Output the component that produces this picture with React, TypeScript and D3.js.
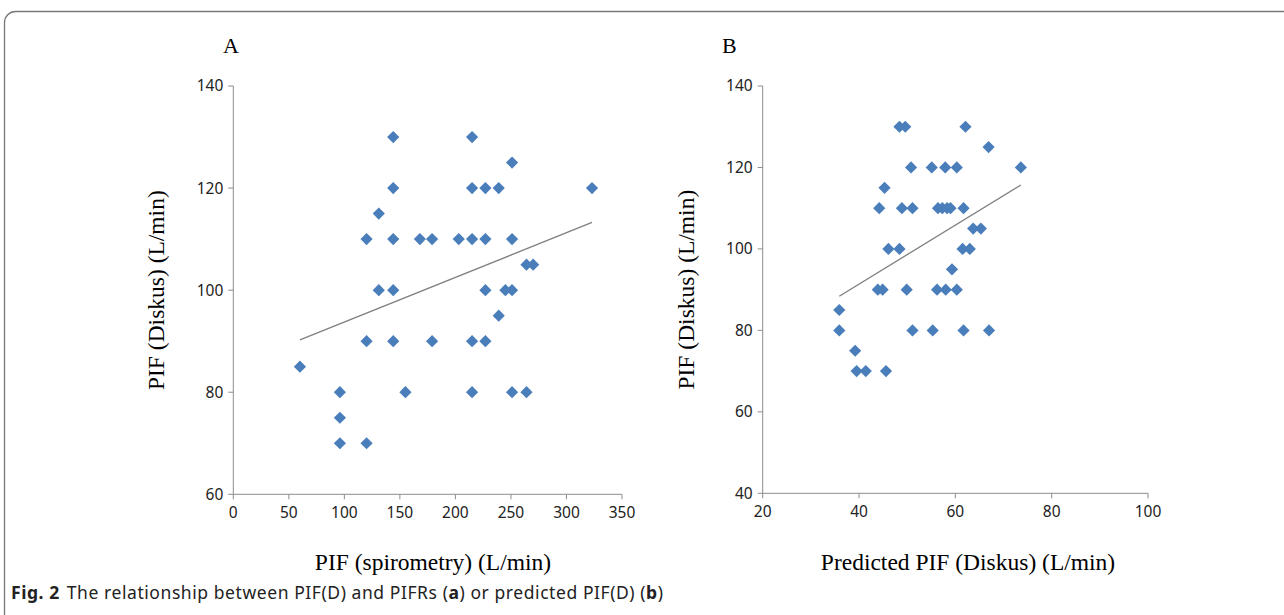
import React from 'react';
import * as d3 from 'd3';

// panel A: PIF(D) vs PIF spirometry
const aX = [144, 215, 251, 144, 215, 227, 239, 323, 131, 120, 144, 168, 179, 203, 215, 227, 251, 264, 270,
  131, 144, 227, 245, 251, 239, 120, 144, 179, 215, 227, 60, 96, 155, 215, 251, 264, 96, 96, 120];
const aY = [130, 130, 125, 120, 120, 120, 120, 120, 115, 110, 110, 110, 110, 110, 110, 110, 110, 105, 105,
  100, 100, 100, 100, 100, 95, 90, 90, 90, 90, 90, 85, 80, 80, 80, 80, 80, 75, 70, 70];
const aFit = [0.0875, 85.0]; // slope, intercept

// panel B: PIF(D) vs predicted PIF(D)
const bX = [48.4, 49.6, 62.1, 66.9, 50.8, 55.1, 57.9, 60.3, 73.6, 45.3, 44.2, 48.9, 51.1, 56.4, 57.3, 58.3, 59.0, 61.7,
  63.7, 65.3, 46.1, 48.4, 61.5, 63.0, 59.3, 43.9, 44.9, 49.9, 56.2, 58.0, 60.3, 35.9, 35.9, 51.1, 55.3, 61.7, 67.0,
  39.2, 39.5, 41.4, 45.6];
const bY = [130, 130, 130, 125, 120, 120, 120, 120, 120, 115, 110, 110, 110, 110, 110, 110, 110, 110,
  105, 105, 100, 100, 100, 100, 95, 90, 90, 90, 90, 90, 90, 85, 80, 80, 80, 80, 80,
  75, 70, 70, 70];
const bFit = [0.724, 62.4];

const aXTicks = [0, 50, 100, 150, 200, 250, 300, 350];
const aYTicks = [60, 80, 100, 120, 140];
const bXTicks = [20, 40, 60, 80, 100];
const bYTicks = [40, 60, 80, 100, 120, 140];

const AXIS = '#8c8c8c';
const DOT = '#4a7ebb';
const SERIF = '"Liberation Serif", "Times New Roman", serif';
const SANS = '"Noto Sans", "Open Sans", sans-serif';

function Panel({ xs, ys, fit, xTicks, yTicks, x0, x1, y0, y1, letter, letterX, yLabelX, xLabelX, xLabel }) {
  const x = d3.scaleLinear().domain(d3.extent(xTicks)).range([x0, x1]);
  const y = d3.scaleLinear().domain(d3.extent(yTicks)).range([y1, y0]);
  const diamond = d3.symbol(d3.symbolDiamond2, 95)();
  const fx = d3.extent(xs);
  const line = d3.line()(fx.map(v => [x(v), y(fit[0] * v + fit[1])]));
  return (
    <g>
      <text x={letterX} y={53} fontFamily={SERIF} fontSize={22}>{letter}</text>
      <line x1={x0} x2={x0} y1={y0} y2={y1} stroke={AXIS} />
      <line x1={x0} x2={x1} y1={y1} y2={y1} stroke={AXIS} />
      {yTicks.map(t => (
        <g key={'y' + t}>
          <line x1={x0 - 5} x2={x0} y1={y(t)} y2={y(t)} stroke={AXIS} />
          <text x={x0 - 10} y={y(t)} dy="0.35em" textAnchor="end" fontFamily={SANS} fontSize={15.5} fill="#222">{t}</text>
        </g>
      ))}
      {xTicks.map(t => (
        <g key={'x' + t}>
          <line x1={x(t)} x2={x(t)} y1={y1} y2={y1 + 5} stroke={AXIS} />
          <text x={x(t)} y={y1 + 24} textAnchor="middle" fontFamily={SANS} fontSize={15.5} fill="#222">{t}</text>
        </g>
      ))}
      <path d={line} stroke="#7f7f7f" strokeWidth={1.3} fill="none" />
      {xs.map((v, i) => (
        <path key={i} d={diamond} transform={`translate(${x(v)},${y(ys[i])})`} fill={DOT} />
      ))}
      <text transform={`translate(${yLabelX},${(y0 + y1) / 2}) rotate(-90)`} textAnchor="middle"
        fontFamily={SERIF} fontSize={23.5}>PIF (Diskus) (L/min)</text>
      <text x={xLabelX} y={570} textAnchor="middle" fontFamily={SERIF} fontSize={23.5}>{xLabel}</text>
    </g>
  );
}

export default function App() {
  return (
    <div style={{ position: 'absolute', left: 0, top: 0 }}>
      <svg width={1284} height={615} style={{ display: 'block', background: '#fff' }}>
        <rect x={4.5} y={11.5} width={1320} height={640} rx={11} fill="none" stroke="#777" strokeWidth={1.3} />
        <Panel xs={aX} ys={aY} fit={aFit} xTicks={aXTicks} yTicks={aYTicks}
          x0={233.3} x1={622} y0={86} y1={494.3} letter="A" letterX={223} yLabelX={164} xLabelX={433}
          xLabel="PIF (spirometry) (L/min)" />
        <Panel xs={bX} ys={bY} fit={bFit} xTicks={bXTicks} yTicks={bYTicks}
          x0={762.7} x1={1148} y0={86} y1={493.3} letter="B" letterX={722} yLabelX={694} xLabelX={968}
          xLabel="Predicted PIF (Diskus) (L/min)" />
        <text x={11} y={599} fontFamily={SANS} fontSize={17.5} fill="#222" textLength={652} lengthAdjust="spacing">
          <tspan fontWeight="bold">Fig. 2</tspan>
          <tspan dx={7}>The relationship between PIF(D) and PIFRs (</tspan>
          <tspan fontWeight="bold">a</tspan>
          <tspan>) or predicted PIF(D) (</tspan>
          <tspan fontWeight="bold">b</tspan>
          <tspan>)</tspan>
        </text>
      </svg>
    </div>
  );
}
